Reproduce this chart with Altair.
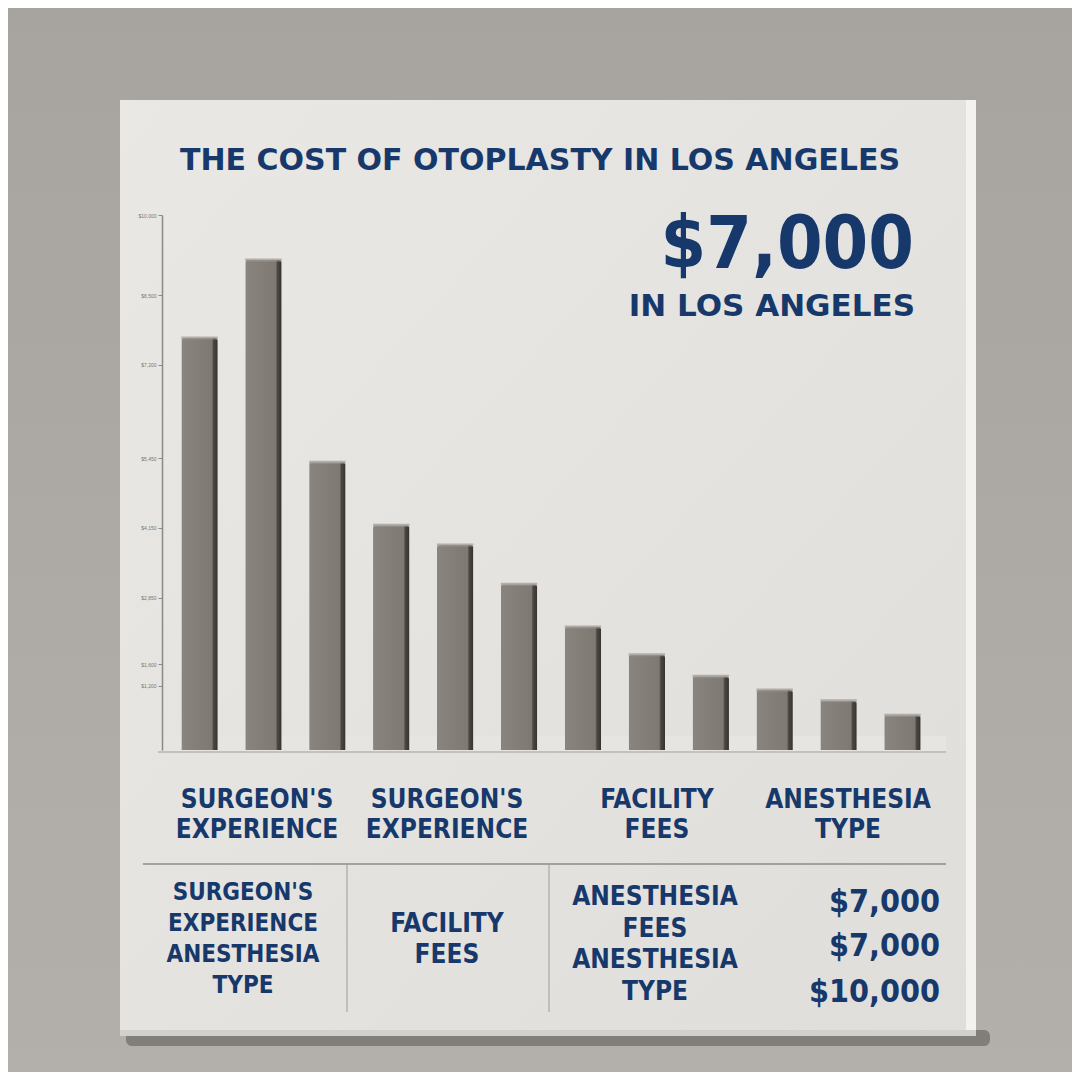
import altair as alt
import pandas as pd

# ---------------- data ----------------
bar_ids = [f"b{i:02d}" for i in range(1, 13)]
bar_values = [7700, 9160, 5380, 4200, 3830, 3100, 2300, 1780, 1380, 1120, 920, 650]
axis_ticks = [1200, 1600, 2850, 4150, 5450, 7200, 8500, 10000]

title_text = "THE COST OF OTOPLASTY IN LOS ANGELES"
headline_value = "$7,000"
headline_sub = "IN LOS ANGELES"

row1_labels = ["SURGEON'S\nEXPERIENCE", "SURGEON'S\nEXPERIENCE", "FACILITY\nFEES", "ANESTHESIA\nTYPE"]
table_col1 = "SURGEON'S\nEXPERIENCE\nANESTHESIA\nTYPE"
table_col2 = "FACILITY\nFEES"
table_col3 = "ANESTHESIA\nFEES\nANESTHESIA\nTYPE"
table_prices = ["$7,000", "$7,000", "$10,000"]

NAVY = "#17386b"
COND = "DejaVu Sans Condensed, Roboto Condensed, Liberation Sans Narrow, DejaVu Sans"
WIDE = "DejaVu Sans, Verdana, Lato"

W = H = 1064
O = 8  # page margin offset (image px -> chart px)

one = pd.DataFrame({"k": [0]})


def rect(x, x2, y, y2, **kw):
    return alt.Chart(one).mark_rect(**kw).encode(
        x=alt.value(x - O), x2=alt.value(x2 - O), y=alt.value(y - O), y2=alt.value(y2 - O)
    )


def rule(x, x2, y, y2, color, width):
    return alt.Chart(one).mark_rule(color=color, strokeWidth=width).encode(
        x=alt.value(x - O), x2=alt.value(x2 - O), y=alt.value(y - O), y2=alt.value(y2 - O)
    )


def text(t, x, y, size, font=COND, align="center", line_height=None, baseline="middle"):
    kw = dict(font=font, fontSize=size, fontWeight="bold", color=NAVY, align=align, baseline=baseline)
    if line_height:
        kw.update(lineBreak="\n", lineHeight=line_height)
    return alt.Chart(pd.DataFrame({"t": [t]})).mark_text(**kw).encode(
        text="t:N", x=alt.value(x - O), y=alt.value(y - O)
    )


bg = alt.Chart(one).mark_rect(
    fill=alt.Gradient(
        gradient="linear",
        stops=[alt.GradientStop(color="#a7a39e", offset=0), alt.GradientStop(color="#b3afaa", offset=1)],
        x1=0, x2=0, y1=0, y2=1,
    )
).encode(x=alt.value(0), x2=alt.value(W), y=alt.value(0), y2=alt.value(H))

shadow = rect(126, 990, 1030, 1046, fill="#5a5652", opacity=0.55, cornerRadius=6)
panel_edge = rect(960, 976, 100, 1036, fill="#f3f2ef")
panel = alt.Chart(one).mark_rect(
    fill=alt.Gradient(
        gradient="linear",
        stops=[alt.GradientStop(color="#e9e8e5", offset=0), alt.GradientStop(color="#dfdeda", offset=1)],
        x1=0, x2=1, y1=0, y2=1,
    )
).encode(x=alt.value(120 - O), x2=alt.value(966 - O), y=alt.value(100 - O), y2=alt.value(1035 - O))
panel_bottom = rect(120, 976, 1030, 1036, fill="#d2d0cc")

floor = rect(158, 946, 736, 751, fill="#e7e5e1")
floor_line = rule(158, 946, 752, 752, "#c4c1bc", 2)

bar_df = pd.DataFrame({"id": bar_ids, "v": bar_values})
xs = alt.Scale(domain=bar_ids, range=[167.6 - O, 934.4 - O], paddingInner=0.43, paddingOuter=0.215)
ys = alt.Scale(domain=[0, 10000], range=[750 - O, 215 - O])

bars = alt.Chart(bar_df).mark_bar(
    cornerRadiusTopLeft=3, cornerRadiusTopRight=3,
    fill=alt.Gradient(
        gradient="linear",
        stops=[
            alt.GradientStop(color="#8a847e", offset=0),
            alt.GradientStop(color="#7f7973", offset=0.84),
            alt.GradientStop(color="#4d4844", offset=0.88),
            alt.GradientStop(color="#35312e", offset=1),
        ],
        x1=0, x2=1, y1=0, y2=0,
    ),
).encode(
    x=alt.X("id:N", scale=xs, axis=None),
    y=alt.Y("v:Q", scale=ys, axis=alt.Axis(
        values=axis_ticks, offset=-(162 - O), title=None, grid=False, zindex=1,
        domainColor="#8d8984", domainWidth=1.5, tickColor="#8d8984", tickSize=4,
        labelFontSize=5, labelColor="#7a7671", format="$,.0f",
    )),
)
bar_caps = alt.Chart(bar_df).mark_tick(color="#9d9792", thickness=3, bandSize=31).encode(
    x=alt.X("id:N", scale=xs, axis=None), y=alt.Y("v:Q", scale=ys)
)

layers = [bg, shadow, panel_edge, panel, panel_bottom, floor, floor_line, bars, bar_caps,
          text(title_text, 540, 161, 30, font=WIDE),
          text(headline_value, 914, 246, 73, align="right"),
          text(headline_sub, 915, 307, 31, font=WIDE, align="right")]

for t, cx in zip(row1_labels, [257, 447, 657, 848]):
    layers.append(text(t, cx, 800, 26, line_height=30))

layers += [
    rule(143, 946, 864, 864, "#8f8b86", 1.5),
    rule(347, 347, 864, 1012, "#a09c97", 1),
    rule(549, 549, 864, 1012, "#a09c97", 1),
    text(table_col1, 243, 893, 24, line_height=31),
    text(table_col2, 447, 924, 26, line_height=31),
    text(table_col3, 655, 897, 26, line_height=31.5),
]
for t, yy in zip(table_prices, [902, 946, 992]):
    layers.append(text(t, 940, yy, 32, align="right"))

chart = alt.layer(*layers).properties(
    width=W, height=H, padding=0, autosize=alt.AutoSizeParams(type="none"),
    background="#a9a5a0",
).configure_view(stroke=None)

chart.save("out.html", embed_options={"renderer": "svg", "actions": False})
